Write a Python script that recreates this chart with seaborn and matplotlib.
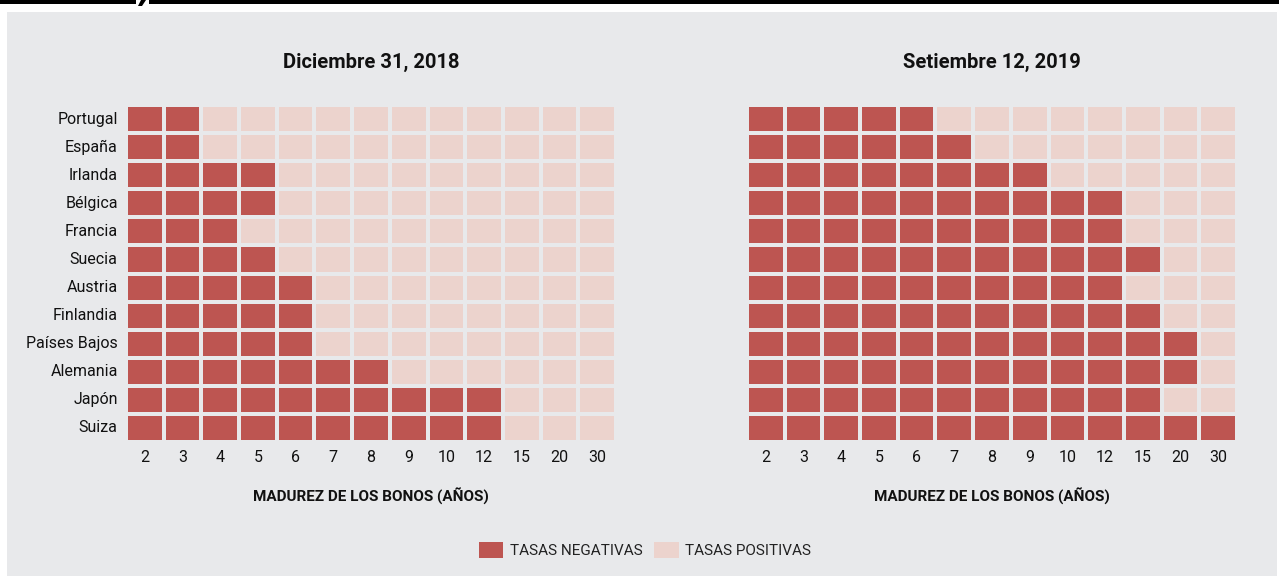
import numpy as np
import pandas as pd
import seaborn as sns
import matplotlib.pyplot as plt
from matplotlib.colors import ListedColormap
from matplotlib.patches import Rectangle, Polygon, Patch

countries = ['Portugal', 'España', 'Irlanda', 'Bélgica', 'Francia', 'Suecia', 'Austria',
             'Finlandia', 'Países Bajos', 'Alemania', 'Japón', 'Suiza']
maturities = ['2', '3', '4', '5', '6', '7', '8', '9', '10', '12', '15', '20', '30']

# number of maturities (from the shortest) with negative yields, per country
neg_2018 = [2, 2, 4, 4, 3, 4, 5, 5, 5, 7, 10, 10]
neg_2019 = [5, 6, 8, 10, 10, 11, 10, 11, 12, 12, 11, 13]

titles = ['Diciembre 31, 2018', 'Setiembre 12, 2019']
xlabel = 'MADUREZ DE LOS BONOS (AÑOS)'
legend_labels = ['TASAS NEGATIVAS', 'TASAS POSITIVAS']

dark = '#bd5551'
light = '#ecd3cd'
bg = '#e8e9eb'

def make_grid(counts):
    vals = np.array([[1 if j < n else 0 for j in range(len(maturities))] for n in counts])
    return pd.DataFrame(vals, index=countries, columns=maturities)

sns.set_theme(style='white')
plt.rcParams['font.family'] = ['Roboto', 'DejaVu Sans']

fig = plt.figure(figsize=(12.79, 5.76), dpi=100)
fig.patch.set_facecolor('white')
W, H = 1279, 576
fig.patches.append(Rectangle((7 / W, 0), 1270 / W, 564 / H, transform=fig.transFigure,
                             facecolor=bg, edgecolor='none', zorder=-10))
# black rule at top, broken by a small slash
fig.patches.append(Polygon([(0, 1), (136 / W, 1), (136 / W, 1 - 4 / H), (0, 1 - 4 / H)],
                           closed=True, transform=fig.transFigure, facecolor='black', edgecolor='none', zorder=-5))
fig.patches.append(Polygon([(141 / W, 1), (146 / W, 1), (142 / W, 1 - 6 / H), (138 / W, 1 - 6 / H)],
                           closed=True, transform=fig.transFigure, facecolor='black', edgecolor='none', zorder=-5))
fig.patches.append(Polygon([(149 / W, 1), (1, 1), (1, 1 - 4 / H), (149 / W, 1 - 4 / H)],
                           closed=True, transform=fig.transFigure, facecolor='black', edgecolor='none', zorder=-5))

cmap = ListedColormap([light, dark])
lefts = [126, 747]
for k, counts in enumerate([neg_2018, neg_2019]):
    ax = fig.add_axes([lefts[k] / W, 1 - 442 / H, 490 / W, 337 / H])
    sns.heatmap(make_grid(counts), ax=ax, cmap=cmap, vmin=0, vmax=1, cbar=False,
                linewidths=2.8, linecolor=bg)
    ax.set_facecolor(bg)
    ax.set_title(titles[k], fontsize=14.5, fontweight='bold', pad=27, color='#111111')
    ax.set_xlabel(xlabel, fontsize=11, fontweight='bold', labelpad=16, color='#111111')
    ax.set_ylabel('')
    ax.tick_params(axis='both', length=0, labelsize=11.5, pad=6, labelcolor='#111111')
    plt.setp(ax.get_xticklabels(), rotation=0)
    if k == 0:
        plt.setp(ax.get_yticklabels(), rotation=0)
    else:
        ax.set_yticklabels([])

handles = [Patch(facecolor=dark, edgecolor='none'), Patch(facecolor=light, edgecolor='none')]
fig.legend(handles, legend_labels, loc='center', bbox_to_anchor=(645 / W, 1 - 550 / H), ncol=2,
           frameon=False, fontsize=11, handlelength=1.6, handleheight=1.2,
           handletextpad=0.4, columnspacing=0.8, labelcolor='#222222')

fig.savefig('out.png', dpi=100, facecolor=fig.get_facecolor())
